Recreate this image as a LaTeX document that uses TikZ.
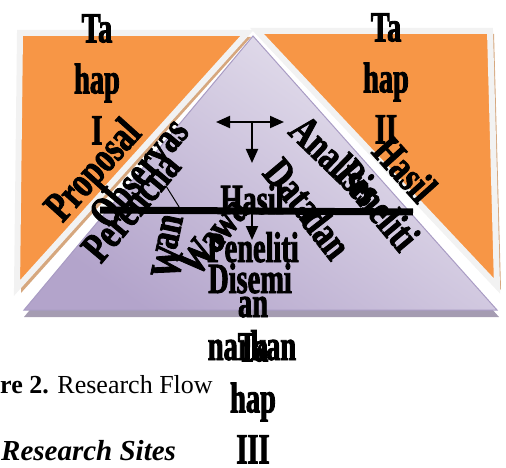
\documentclass[tikz,border=0pt]{standalone}
\usepackage{fontspec}
\setmainfont{Liberation Serif}
\newfontfamily\tallfont[FakeStretch = 0.66, FakeBold = 2]{Liberation Serif}
\newfontfamily\tiltfont[FakeStretch = 0.74, FakeBold = 2]{Liberation Serif}
\usetikzlibrary{arrows.meta}
\definecolor{tahapfill}{HTML}{F79646}
\definecolor{tahapedge}{HTML}{F2F2F2}
\definecolor{tahapshade}{HTML}{D6A77E}
\definecolor{alurtop}{HTML}{E9E5F0}
\definecolor{alurbottom}{HTML}{B3A4CB}
\definecolor{alurrim}{HTML}{A99CC4}
\definecolor{alurbase}{HTML}{A59CB2}
\tikzset{
    tahap/.style = {fill = tahapfill, draw = tahapedge, line width = 6pt, line join = miter},
    kata/.style = {font = \tallfont\bfseries\fontsize{43}{51}\selectfont, inner sep = 0pt, align = center},
    miring/.style = {font = \tiltfont\bfseries\fontsize{43}{51}\selectfont, inner sep = 0pt},
    caption/.style = {font = \fontsize{26}{30}\selectfont, inner sep = 0pt},
    panah/.style = {line width = 2pt},
}
\begin{document}
\begin{tikzpicture}[x = 1pt, y = -1pt, >= {Triangle[length = 14pt, width = 12pt]}]
        \useasboundingbox (0,0) rectangle (506,468);
        \begin{scope}
            \fill[alurbase] (253,42) -- (24,317) -- (499,317) -- cycle;
            \shadedraw[top color = alurtop, bottom color = alurbottom, shading angle = -35, draw = alurrim, line width = 1pt] (253,36) -- (24,310) -- (497,310) -- cycle;
            \fill[tahapshade] (24,37) -- (251,37) -- (21,293) -- cycle;
            \draw[tahap] (20,33) -- (247,33) -- (17,288) -- cycle;
            \fill[tahapshade] (261,34) -- (494,34) -- (501,290) -- cycle;
            \draw[tahap] (257,31) -- (490,31) -- (497,286) -- cycle;
        \end{scope}
        \node[kata, anchor = north] (tahapSatu) at (97,14) {Ta\\hap\\I};
        \node[kata, anchor = north] (tahapDua) at (386,13) {Ta\\hap\\II};
        \node[miring, rotate = 48] (proposal) at (95,172) {Proposal};
        \node[miring, rotate = 50] (perencana) at (131,207) {Perencna};
        \node[miring, rotate = 50] (observasi) at (138,172) {Observas};
        \node[miring, rotate = 78] (observasiAn) at (170,232) {an};
        \node[miring, rotate = 78] (wawancaraW) at (168,262) {W};
        \node[miring, rotate = 52] (wawancara) at (213,236) {Wawa};
        \node[kata, anchor = base] (hasil) at (252,214) {Hasil};
        \node[miring, rotate = -50] (data) at (293,190) {Data};
        \node[miring, rotate = -52] (dan) at (327,233) {dan};
        \node[miring, rotate = -44] (analisis) at (336,160) {Analisis};
        \node[miring, rotate = -50] (penelitiKanan) at (378,205) {Peneliti};
        \node[miring, rotate = -48] (hasilKanan) at (405,169) {Hasil};
        \node[kata, anchor = base] (peneliti) at (253,262) {Peneliti};
        \node[kata, anchor = base] (disemi) at (250,293) {Disemi};
        \node[kata, anchor = base] (an) at (253,317) {an};
        \node[kata, anchor = base] (narkan) at (252,360) {narkan};
        \node[kata, anchor = north] (tahapTiga) at (253,333) {Ta\\hap\\III};
        \node[caption, anchor = base west] (judul) at (0,393) {\textbf{re 2.} Research Flow};
        \node[caption, anchor = base west, font = \bfseries\itshape\fontsize{29}{32}\selectfont] (lokasi) at (1,460) {Research Sites};
        % arrows and the bar
        \coordinate (arahKiri) at (216,122);
        \coordinate (arahKanan) at (284,122);
        \coordinate (arahTengah) at (252,122);
        \coordinate (arahBawah) at (252,163);
        \coordinate (turunAtas) at (252,208);
        \coordinate (turunBawah) at (252,240);
        \coordinate (garisKiri) at (100,210);
        \coordinate (garisKanan) at (413,212);
        \coordinate (miringAtas) at (166,186);
        \coordinate (miringBawah) at (181,210);
        \draw[panah, <->] (arahKiri) -- (arahKanan);
        \draw[panah, ->] (arahTengah) -- (arahBawah);
        \draw[panah, ->] (turunAtas) -- (turunBawah);
        \draw[line width = 1pt] (miringAtas) -- (miringBawah);
        \draw[line width = 7pt] (garisKiri) -- (garisKanan);
    \end{tikzpicture}
\end{document}
